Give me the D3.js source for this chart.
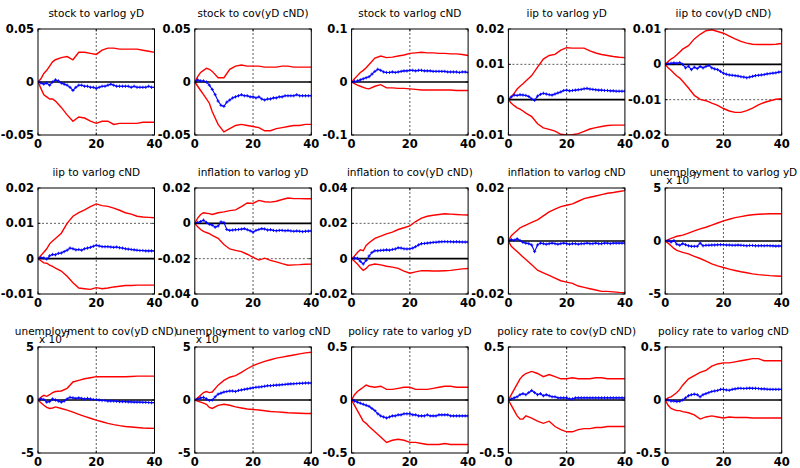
<!DOCTYPE html>
<html>
<head>
<meta charset="utf-8">
<script src="https://cdn.jsdelivr.net/npm/d3@7/dist/d3.min.js"></script>
<style>
  html, body { margin: 0; padding: 0; background: #fff; }
  svg { display: block; }
</style>
</head>
<body>
<svg id="chart" width="800" height="468"></svg>
<script>
// Impulse responses: 15 panels, each with a median (blue, +markers) and a red band.
const horizons = d3.range(0, 41);
const bandHorizons = [0,1,2,3,4,5,6,8,10,12,14,16,18,20,22,24,26,28,30,32,34,36,38,40];

const titles = [
  "stock to varlog yD", "stock to cov(yD cND)", "stock to varlog cND", "iip to varlog yD", "iip to cov(yD cND)",
  "iip to varlog cND", "inflation to varlog yD", "inflation to cov(yD cND)", "inflation to varlog cND", "unemployment to varlog yD",
  "unemployment to cov(yD cND)", "unemployment to varlog cND", "policy rate to varlog yD", "policy rate to cov(yD cND)", "policy rate to varlog cND"
];

const yTicks = [
  [-0.05, 0, 0.05], [-0.05, 0, 0.05], [-0.1, 0, 0.1], [-0.01, 0, 0.01, 0.02], [-0.02, -0.01, 0, 0.01],
  [-0.01, 0, 0.01, 0.02], [-0.04, -0.02, 0, 0.02], [-0.02, 0, 0.02, 0.04], [-0.02, 0, 0.02], [-5, 0, 5],
  [-5, 0, 5], [-5, 0, 5], [-0.5, 0, 0.5], [-0.5, 0, 0.5], [-0.5, 0, 0.5]
];
const xTicks = [0, 20, 40];
const exponentPanels = [9, 10, 11];
const exponentText = "-7";

// stock
const mid01 = [0,-0.001,-0.002,-0.001,-0.003,0,0.002,0.001,-0.001,-0.002,-0.003,-0.005,-0.008,-0.005,-0.003,-0.003,-0.004,-0.004,-0.005,-0.005,-0.006,-0.005,-0.004,-0.004,-0.003,-0.002,-0.003,-0.004,-0.004,-0.004,-0.004,-0.004,-0.005,-0.004,-0.005,-0.005,-0.005,-0.005,-0.004,-0.005,-0.005];
const hi01 = [0,0.003,0.008,0.011,0.015,0.019,0.021,0.023,0.024,0.021,0.028,0.028,0.027,0.026,0.030,0.032,0.032,0.031,0.031,0.031,0.031,0.030,0.029,0.028];
const lo01 = [0,-0.006,-0.012,-0.014,-0.016,-0.016,-0.018,-0.024,-0.031,-0.037,-0.033,-0.034,-0.037,-0.039,-0.037,-0.037,-0.040,-0.039,-0.039,-0.039,-0.039,-0.038,-0.038,-0.038];

const mid02 = [0,0.002,0.001,0.001,0,-0.003,-0.007,-0.012,-0.018,-0.022,-0.023,-0.019,-0.017,-0.015,-0.014,-0.013,-0.012,-0.013,-0.013,-0.014,-0.014,-0.015,-0.014,-0.016,-0.017,-0.016,-0.016,-0.015,-0.015,-0.014,-0.014,-0.013,-0.013,-0.013,-0.013,-0.012,-0.013,-0.013,-0.013,-0.013,-0.013];
const hi02 = [0,0.005,0.009,0.011,0.013,0.012,0.010,0.004,0.004,0.012,0.015,0.016,0.015,0.015,0.015,0.014,0.014,0.014,0.015,0.015,0.014,0.014,0.014,0.014];
const lo02 = [0,-0.004,-0.008,-0.012,-0.016,-0.020,-0.028,-0.040,-0.047,-0.044,-0.041,-0.040,-0.041,-0.042,-0.043,-0.046,-0.046,-0.044,-0.043,-0.042,-0.041,-0.041,-0.040,-0.040];

const mid03 = [0,0.001,0.002,0.004,0.006,0.008,0.010,0.015,0.020,0.024,0.022,0.019,0.018,0.018,0.019,0.018,0.019,0.020,0.021,0.021,0.022,0.022,0.021,0.022,0.022,0.021,0.021,0.021,0.020,0.020,0.020,0.020,0.020,0.019,0.019,0.019,0.019,0.018,0.019,0.019,0.018];
const hi03 = [0,0.006,0.012,0.018,0.022,0.027,0.033,0.045,0.049,0.046,0.047,0.049,0.051,0.054,0.055,0.056,0.055,0.055,0.054,0.054,0.053,0.053,0.052,0.050];
const lo03 = [0,-0.003,-0.006,-0.008,-0.010,-0.012,-0.013,-0.008,-0.005,-0.011,-0.011,-0.012,-0.012,-0.013,-0.014,-0.015,-0.015,-0.015,-0.015,-0.015,-0.015,-0.016,-0.016,-0.016];

// iip
const mid04 = [0,0.0008,0.0013,0.0012,0.0014,0.0013,0.0012,0.0009,0.0002,-0.0002,0.0010,0.0015,0.0018,0.0016,0.0014,0.0013,0.0016,0.0019,0.0022,0.0026,0.0027,0.0025,0.0026,0.0027,0.0028,0.0029,0.0031,0.0032,0.0030,0.0029,0.0028,0.0027,0.0027,0.0026,0.0026,0.0025,0.0025,0.0024,0.0024,0.0024,0.0024];
const hi04 = [0,0.0008,0.0018,0.0030,0.0038,0.0045,0.0053,0.0068,0.0092,0.0115,0.0125,0.0128,0.0140,0.0147,0.0146,0.0146,0.0146,0.0138,0.0132,0.0128,0.0125,0.0122,0.0120,0.0119];
const lo04 = [0,-0.0010,-0.0017,-0.0023,-0.0027,-0.0032,-0.0038,-0.0048,-0.0068,-0.0080,-0.0084,-0.0089,-0.0098,-0.0100,-0.0099,-0.0096,-0.0090,-0.0083,-0.0079,-0.0076,-0.0073,-0.0072,-0.0072,-0.0072];

const mid05 = [0,0.0002,0.0003,0.0004,0.0003,0.0005,0,-0.0010,-0.0005,-0.0015,-0.0008,-0.0012,-0.0006,-0.0010,-0.0006,-0.0003,-0.0010,-0.0013,-0.0015,-0.0020,-0.0025,-0.0028,-0.0030,-0.0031,-0.0032,-0.0033,-0.0035,-0.0036,-0.0038,-0.0036,-0.0034,-0.0032,-0.0031,-0.0030,-0.0029,-0.0027,-0.0026,-0.0025,-0.0024,-0.0022,-0.0021];
const hi05 = [0,0.0008,0.0015,0.0020,0.0027,0.0035,0.0043,0.0053,0.0072,0.0085,0.0095,0.0098,0.0093,0.0088,0.0080,0.0072,0.0065,0.0060,0.0057,0.0056,0.0056,0.0056,0.0057,0.0059];
const lo05 = [0,-0.0010,-0.0017,-0.0025,-0.0033,-0.0039,-0.0048,-0.0067,-0.0088,-0.0099,-0.0103,-0.0110,-0.0116,-0.0125,-0.0132,-0.0136,-0.0136,-0.0131,-0.0124,-0.0115,-0.0108,-0.0103,-0.0099,-0.0097];

const mid06 = [0,0.0003,0.0002,-0.0001,0.0008,0.0012,0.0011,0.0015,0.0016,0.0020,0.0024,0.0030,0.0028,0.0025,0.0026,0.0024,0.0028,0.0030,0.0032,0.0035,0.0038,0.0036,0.0034,0.0034,0.0034,0.0033,0.0032,0.0033,0.0031,0.0030,0.0028,0.0027,0.0026,0.0025,0.0024,0.0023,0.0023,0.0022,0.0022,0.0022,0.0022];
const hi06 = [0,0.0009,0.0018,0.0028,0.0042,0.0050,0.0057,0.0072,0.0100,0.0120,0.0130,0.0138,0.0147,0.0155,0.0150,0.0148,0.0143,0.0137,0.0130,0.0126,0.0120,0.0118,0.0117,0.0116];
const lo06 = [0,-0.0006,-0.0012,-0.0013,-0.0018,-0.0022,-0.0027,-0.0035,-0.0050,-0.0068,-0.0083,-0.0085,-0.0087,-0.0082,-0.0085,-0.0083,-0.0080,-0.0078,-0.0076,-0.0076,-0.0075,-0.0075,-0.0075,-0.0075];

// inflation
const mid07 = [0,0.0005,0.0010,0.0018,0.0005,-0.0005,-0.0010,-0.0022,-0.0015,0.0008,0.0005,-0.0035,-0.0040,-0.0038,-0.0036,-0.0035,-0.0033,-0.0030,-0.0036,-0.0042,-0.0050,-0.0040,-0.0035,-0.0030,-0.0032,-0.0038,-0.0036,-0.0040,-0.0042,-0.0040,-0.0040,-0.0042,-0.0040,-0.0043,-0.0045,-0.0043,-0.0045,-0.0047,-0.0045,-0.0044,-0.0043];
const hi07 = [0,0.0030,0.0050,0.0060,0.0057,0.0055,0.0050,0.0060,0.0065,0.0072,0.0076,0.0095,0.0115,0.0113,0.0130,0.0122,0.0120,0.0125,0.0135,0.0143,0.0140,0.0140,0.0139,0.0139];
const lo07 = [0,-0.0020,-0.0035,-0.0045,-0.0052,-0.0058,-0.0068,-0.0085,-0.0120,-0.0145,-0.0153,-0.0160,-0.0175,-0.0192,-0.0208,-0.0197,-0.0210,-0.0218,-0.0228,-0.0237,-0.0235,-0.0234,-0.0232,-0.0231];

const mid08 = [0,0.0003,0.0002,-0.0015,-0.0030,-0.0010,0.0015,0.0035,0.0045,0.0045,0.0047,0.0048,0.0050,0.0048,0.0052,0.0055,0.0062,0.0060,0.0056,0.0055,0.0056,0.0060,0.0068,0.0078,0.0085,0.0086,0.0088,0.0090,0.0092,0.0093,0.0095,0.0096,0.0097,0.0096,0.0096,0.0095,0.0096,0.0095,0.0094,0.0094,0.0094];
const hi08 = [0,0.0015,0.0035,0.0050,0.0045,0.0075,0.0090,0.0115,0.0128,0.0140,0.0150,0.0165,0.0175,0.0185,0.0210,0.0230,0.0240,0.0246,0.0250,0.0254,0.0252,0.0250,0.0248,0.0247];
const lo08 = [0,-0.0015,-0.0030,-0.0050,-0.0066,-0.0055,-0.0038,-0.0030,-0.0035,-0.0043,-0.0048,-0.0055,-0.0070,-0.0082,-0.0075,-0.0068,-0.0068,-0.0070,-0.0070,-0.0068,-0.0066,-0.0062,-0.0058,-0.0056];

const mid09 = [0,0.0005,0.0003,0.0008,0.0002,-0.0005,-0.0008,-0.0010,-0.0015,-0.0040,-0.0015,-0.0008,-0.0010,-0.0012,-0.0010,-0.0008,-0.0010,-0.0012,-0.0010,-0.0008,-0.0010,-0.0012,-0.0010,-0.0010,-0.0012,-0.0010,-0.0010,-0.0008,-0.0010,-0.0010,-0.0008,-0.0010,-0.0010,-0.0008,-0.0008,-0.0010,-0.0008,-0.0008,-0.0008,-0.0008,-0.0008];
const hi09 = [0,0.0020,0.0030,0.0040,0.0050,0.0055,0.0060,0.0070,0.0080,0.0095,0.0110,0.0120,0.0130,0.0135,0.0140,0.0150,0.0160,0.0165,0.0170,0.0175,0.0180,0.0183,0.0187,0.0190];
const lo09 = [0,-0.0020,-0.0030,-0.0040,-0.0050,-0.0060,-0.0070,-0.0090,-0.0110,-0.0120,-0.0130,-0.0140,-0.0150,-0.0155,-0.0160,-0.0170,-0.0175,-0.0180,-0.0185,-0.0190,-0.0190,-0.0192,-0.0194,-0.0195];

// unemployment (scaled by the axis exponent)
const mid10 = [0,0.05,-0.1,0.05,-0.3,-0.4,-0.25,-0.35,-0.45,-0.5,-0.5,-0.5,-0.2,-0.45,-0.4,-0.4,-0.38,-0.38,-0.36,-0.35,-0.35,-0.38,-0.38,-0.4,-0.4,-0.38,-0.4,-0.42,-0.45,-0.42,-0.42,-0.45,-0.45,-0.44,-0.45,-0.43,-0.45,-0.46,-0.48,-0.47,-0.47];
const hi10 = [0,0.1,0.25,0.35,0.45,0.5,0.55,0.75,0.95,1.15,1.3,1.5,1.7,1.9,2.05,2.2,2.3,2.4,2.48,2.52,2.55,2.57,2.57,2.57];
const lo10 = [0,-0.2,-0.45,-0.7,-0.88,-0.98,-1.07,-1.22,-1.45,-1.65,-1.9,-2.15,-2.35,-2.5,-2.65,-2.78,-2.9,-3.0,-3.1,-3.17,-3.22,-3.27,-3.3,-3.33];

const mid11 = [0,0.1,0.05,-0.2,-0.15,0.1,0,-0.1,-0.2,-0.1,0.1,0.25,0.2,0.15,0.2,0.15,0.1,0.15,0.1,0.05,0.05,0,-0.05,-0.05,-0.1,-0.1,-0.1,-0.12,-0.15,-0.15,-0.15,-0.18,-0.18,-0.2,-0.2,-0.2,-0.22,-0.22,-0.24,-0.25,-0.25];
const hi11 = [0,0.25,0.45,0.35,0.5,0.7,0.8,0.85,1.1,1.7,1.85,2.0,2.1,2.2,2.2,2.2,2.2,2.2,2.2,2.22,2.25,2.25,2.25,2.25];
const lo11 = [0,-0.25,-0.5,-0.7,-0.8,-0.75,-0.65,-0.8,-0.95,-1.15,-1.35,-1.55,-1.72,-1.9,-2.05,-2.2,-2.32,-2.42,-2.5,-2.55,-2.6,-2.64,-2.66,-2.68];

const mid12 = [0,0.1,0.2,0.25,0.1,-0.05,0,0.3,0.55,0.65,0.75,0.8,0.85,0.85,0.8,0.9,0.95,1.0,1.05,1.1,1.15,1.2,1.22,1.25,1.3,1.35,1.35,1.38,1.4,1.42,1.45,1.47,1.5,1.52,1.53,1.55,1.57,1.58,1.6,1.6,1.6];
const hi12 = [0,0.2,0.45,0.7,0.8,0.7,0.75,1.4,1.85,2.15,2.3,2.6,2.95,3.25,3.45,3.65,3.8,3.95,4.05,4.15,4.25,4.35,4.45,4.5];
const lo12 = [0,-0.1,-0.2,-0.3,-0.4,-0.7,-0.8,-0.5,-0.4,-0.5,-0.65,-0.75,-0.85,-0.9,-0.95,-1.02,-1.08,-1.12,-1.16,-1.2,-1.22,-1.25,-1.27,-1.28];

// policy rate
const mid13 = [0,-0.01,-0.02,-0.03,-0.04,-0.05,-0.06,-0.08,-0.1,-0.13,-0.15,-0.16,-0.17,-0.16,-0.15,-0.15,-0.14,-0.14,-0.13,-0.13,-0.13,-0.14,-0.14,-0.15,-0.15,-0.15,-0.14,-0.15,-0.15,-0.15,-0.14,-0.14,-0.14,-0.14,-0.15,-0.15,-0.15,-0.15,-0.15,-0.15,-0.15];
const hi13 = [0,0.05,0.08,0.1,0.12,0.14,0.13,0.12,0.13,0.1,0.1,0.11,0.12,0.12,0.1,0.1,0.1,0.11,0.12,0.13,0.13,0.12,0.12,0.12];
const lo13 = [0,-0.05,-0.1,-0.15,-0.2,-0.22,-0.25,-0.3,-0.35,-0.4,-0.38,-0.37,-0.38,-0.4,-0.4,-0.41,-0.42,-0.42,-0.42,-0.41,-0.42,-0.42,-0.42,-0.42];

const mid14 = [0,0.01,0.02,0.03,0.05,0.06,0.05,0.07,0.09,0.07,0.05,0.06,0.04,0.05,0.04,0.03,0.03,0.02,0.02,0.02,0.02,0.01,0.01,0.02,0.02,0.02,0.02,0.02,0.02,0.02,0.02,0.02,0.02,0.02,0.02,0.02,0.02,0.02,0.02,0.02,0.02];
const hi14 = [0,0.05,0.1,0.15,0.2,0.23,0.25,0.27,0.25,0.22,0.24,0.22,0.2,0.2,0.21,0.2,0.2,0.2,0.21,0.21,0.2,0.2,0.2,0.2];
const lo14 = [0,-0.05,-0.1,-0.15,-0.18,-0.18,-0.15,-0.17,-0.2,-0.22,-0.2,-0.25,-0.28,-0.3,-0.3,-0.28,-0.27,-0.27,-0.26,-0.26,-0.25,-0.25,-0.25,-0.25];

const mid15 = [0,0,-0.01,-0.01,-0.015,-0.012,0,0.02,0.04,0.05,0.055,0.05,0.03,0.05,0.06,0.07,0.08,0.085,0.09,0.1,0.1,0.095,0.092,0.1,0.105,0.11,0.11,0.108,0.11,0.112,0.11,0.11,0.108,0.105,0.105,0.102,0.1,0.1,0.1,0.1,0.1];
const hi15 = [0,0.02,0.03,0.05,0.07,0.1,0.14,0.2,0.23,0.26,0.28,0.32,0.34,0.35,0.35,0.36,0.37,0.38,0.39,0.39,0.37,0.37,0.37,0.37];
const lo15 = [0,-0.05,-0.08,-0.09,-0.1,-0.1,-0.11,-0.12,-0.14,-0.18,-0.16,-0.15,-0.16,-0.17,-0.16,-0.165,-0.165,-0.165,-0.17,-0.17,-0.17,-0.17,-0.17,-0.17];

const mids = [mid01, mid02, mid03, mid04, mid05, mid06, mid07, mid08, mid09, mid10, mid11, mid12, mid13, mid14, mid15];
const his  = [hi01, hi02, hi03, hi04, hi05, hi06, hi07, hi08, hi09, hi10, hi11, hi12, hi13, hi14, hi15];
const los  = [lo01, lo02, lo03, lo04, lo05, lo06, lo07, lo08, lo09, lo10, lo11, lo12, lo13, lo14, lo15];

// ---- layout ----
const svg = d3.select("#chart");
const nCols = 5;
const colLeft0 = 38, colStep = 156.8, boxW = 116.5;
const rowTops = [29, 188, 347], boxH = 106;
const tickFont = "'DejaVu Sans', Verdana, sans-serif";

titles.forEach((title, i) => {
  const r = Math.floor(i / nCols), c = i % nCols;
  const left = colLeft0 + c * colStep, top = rowTops[r];
  const yt = yTicks[i];
  const x = d3.scaleLinear().domain([0, 40]).range([0, boxW]);
  const y = d3.scaleLinear().domain([yt[0], yt[yt.length - 1]]).range([boxH, 0]);
  const g = svg.append("g").attr("transform", `translate(${left},${top})`);

  // dotted grid
  const grid = g.append("g").attr("stroke", "#333").attr("stroke-width", 0.8).attr("stroke-dasharray", "2,2");
  xTicks.slice(1, -1).forEach(t => grid.append("line")
    .attr("x1", x(t)).attr("x2", x(t)).attr("y1", 0).attr("y2", boxH));
  yt.slice(1, -1).filter(t => t !== 0).forEach(t => grid.append("line")
    .attr("x1", 0).attr("x2", boxW).attr("y1", y(t)).attr("y2", y(t)));

  // zero line
  g.append("line").attr("x1", 0).attr("x2", boxW).attr("y1", y(0)).attr("y2", y(0))
    .attr("stroke", "#000").attr("stroke-width", 1.6);

  const clip = `clip${i}`;
  g.append("clipPath").attr("id", clip).append("rect").attr("width", boxW).attr("height", boxH);
  const plot = g.append("g").attr("clip-path", `url(#${clip})`);

  const bandLine = d3.line().x((d, k) => x(bandHorizons[k])).y(d => y(d));
  [his[i], los[i]].forEach(arr => plot.append("path").datum(arr)
    .attr("d", bandLine).attr("fill", "none").attr("stroke", "#ff0000").attr("stroke-width", 1.4));

  const midLine = d3.line().x((d, k) => x(horizons[k])).y(d => y(d));
  plot.append("path").datum(mids[i]).attr("d", midLine)
    .attr("fill", "none").attr("stroke", "#0000ff").attr("stroke-width", 1.1);
  const ms = 1.6;
  plot.append("path")
    .attr("d", mids[i].map((v, k) => {
      const px = x(horizons[k]), py = y(v);
      return `M${px - ms},${py}H${px + ms}M${px},${py - ms}V${py + ms}`;
    }).join(""))
    .attr("stroke", "#0000ff").attr("stroke-width", 0.9).attr("fill", "none");

  // box with inward ticks
  g.append("rect").attr("width", boxW).attr("height", boxH)
    .attr("fill", "none").attr("stroke", "#000").attr("stroke-width", 1);
  const tl = 2.5;
  const ticks = g.append("g").attr("stroke", "#000").attr("stroke-width", 0.8);
  xTicks.forEach(t => {
    ticks.append("line").attr("x1", x(t)).attr("x2", x(t)).attr("y1", boxH).attr("y2", boxH - tl);
    ticks.append("line").attr("x1", x(t)).attr("x2", x(t)).attr("y1", 0).attr("y2", tl);
  });
  yt.forEach(t => {
    ticks.append("line").attr("x1", 0).attr("x2", tl).attr("y1", y(t)).attr("y2", y(t));
    ticks.append("line").attr("x1", boxW).attr("x2", boxW - tl).attr("y1", y(t)).attr("y2", y(t));
  });

  // tick labels
  g.selectAll(".xl").data(xTicks).enter().append("text")
    .attr("x", d => x(d)).attr("y", boxH + 12.5)
    .attr("text-anchor", "middle").attr("font-family", tickFont).attr("font-weight", "bold")
    .attr("font-size", 11.5).attr("fill", "#000").text(d => String(d));
  g.selectAll(".yl").data(yt).enter().append("text")
    .attr("x", -4).attr("y", d => y(d)).attr("dy", "0.36em")
    .attr("text-anchor", "end").attr("font-family", tickFont).attr("font-weight", "bold")
    .attr("font-size", 11.5).attr("fill", "#000").text(d => String(d));

  // title
  g.append("text").attr("x", boxW / 2).attr("y", -12)
    .attr("text-anchor", "middle").attr("font-family", tickFont)
    .attr("font-size", 10.5).attr("fill", "#000").text(title);

  // axis exponent
  if (exponentPanels.includes(i)) {
    const ex = g.append("text").attr("x", 1).attr("y", -4)
      .attr("font-family", tickFont).attr("font-size", 10.5).attr("fill", "#000");
    ex.append("tspan").text("x 10");
    ex.append("tspan").attr("dy", -5).attr("font-size", 8).text(exponentText);
  }
});
</script>
</body>
</html>
